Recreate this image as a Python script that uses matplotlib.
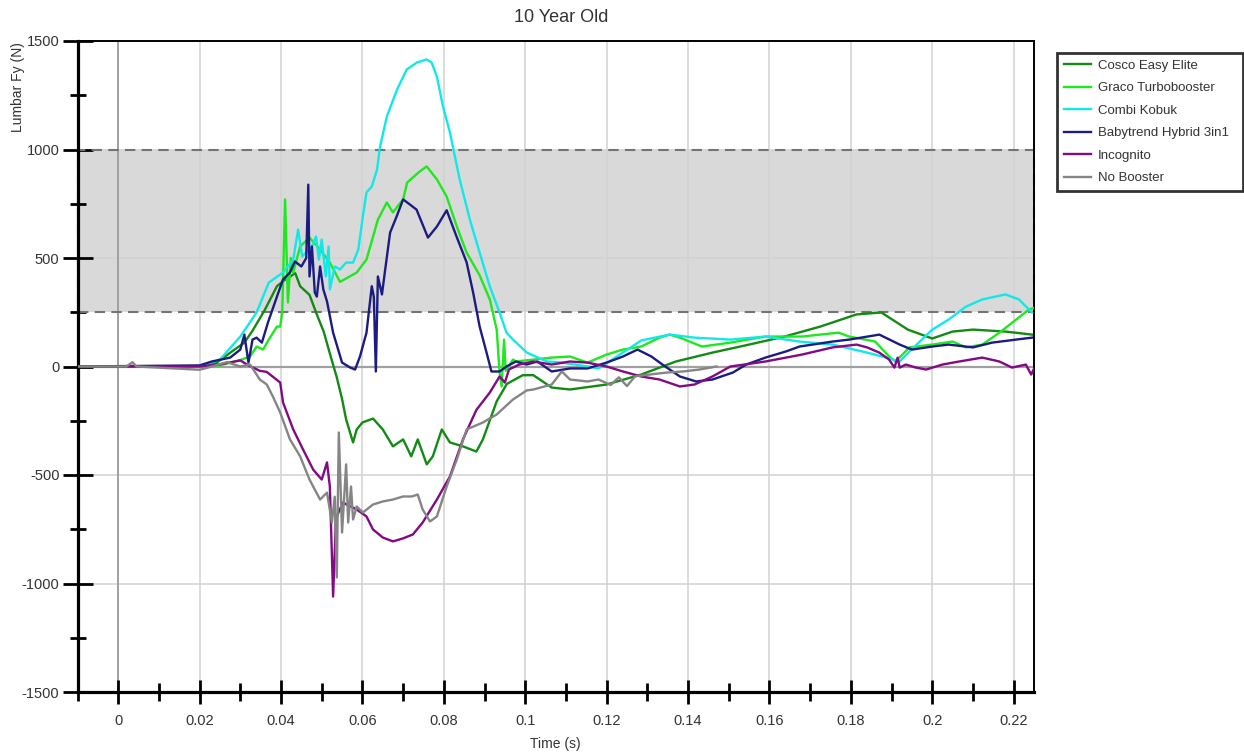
import matplotlib
matplotlib.use("Agg")
import matplotlib.pyplot as plt
from matplotlib.patches import Rectangle
from matplotlib.ticker import MultipleLocator, FuncFormatter
import numpy as np

plt.rcParams['font.family'] = ['Liberation Sans', 'DejaVu Sans']

title = "10 Year Old"
x_label = "Time (s)"
y_label = "Lumbar Fy (N)"
band_low, band_high = 250, 1000

names = ["Cosco Easy Elite", "Graco Turbobooster", "Combi Kobuk",
         "Babytrend Hybrid 3in1", "Incognito", "No Booster"]
colors = ["#138a13", "#1ee81e", "#12e8e8", "#1c1c80", "#820a82", "#858585"]

# Lumbar Fy traces: (time s, force N)
cosco_t = [-0.01, 0.0, 0.01, 0.02, 0.024, 0.028, 0.031, 0.033, 0.036, 0.039, 0.041, 0.0435,
           0.0447, 0.047, 0.049, 0.0505, 0.052, 0.0537, 0.055, 0.056, 0.0577, 0.0586, 0.060,
           0.0626, 0.065, 0.0675, 0.070, 0.072, 0.0736, 0.0758, 0.0773, 0.0795, 0.0815,
           0.0847, 0.088, 0.0896, 0.093, 0.0955, 0.0994, 0.102, 0.1065, 0.111, 0.120, 0.1285,
           0.137, 0.146, 0.155, 0.1637, 0.1725, 0.1814, 0.1875, 0.194, 0.200, 0.205, 0.210,
           0.218, 0.2245]
cosco_v = [0, 0, 0, 2, 15, 70, 110, 165, 260, 370, 400, 430,
           370, 330, 230, 160, 60, -50, -150, -244, -350, -290, -258,
           -240, -290, -368, -336, -414, -336, -451, -414, -290, -350,
           -368, -392, -336, -160, -80, -40, -40, -97, -106, -83, -37,
           23, 64, 101, 138, 184, 240, 249, 170, 129, 161, 170,
           161, 147]

graco_t = [-0.01, 0.02, 0.025, 0.03, 0.0324, 0.034, 0.0356, 0.037, 0.039, 0.0398, 0.0403,
           0.041, 0.0417, 0.0424, 0.043, 0.0447, 0.047, 0.0496, 0.052, 0.0545, 0.0586,
           0.061, 0.0638, 0.066, 0.0675, 0.070, 0.071, 0.0741, 0.0758, 0.0783, 0.0807,
           0.0832, 0.0856, 0.0888, 0.0913, 0.093, 0.0937, 0.0942, 0.0948, 0.0952, 0.097,
           0.0977, 0.1065, 0.111, 0.1153, 0.12, 0.124, 0.1285, 0.133, 0.1355, 0.138,
           0.1434, 0.1504, 0.159, 0.168, 0.177, 0.1796, 0.186, 0.1894, 0.191, 0.1944,
           0.2, 0.205, 0.2083, 0.2123, 0.2165, 0.2206, 0.2238, 0.225]
graco_v = [0, 0, 5, 30, 46, 92, 78, 124, 184, 184, 250,
           770, 295, 500, 433, 553, 594, 539, 479, 390, 433,
           493, 677, 756, 710, 770, 848, 899, 922, 862, 783,
           645, 525, 420, 309, 170, -28, -92, 124, -20, 32,
           23, 41, 46, 18, 55, 78, 92, 133, 147, 133,
           92, 110, 138, 138, 156, 138, 115, 46, 23, 88,
           101, 115, 88, 101, 156, 216, 263, 270]

combi_t = [-0.01, 0.02, 0.025, 0.03, 0.034, 0.037, 0.0405, 0.043, 0.0442, 0.0452, 0.0476,
           0.0486, 0.0493, 0.050, 0.051, 0.0517, 0.052, 0.0532, 0.0545, 0.056, 0.0577,
           0.059, 0.0601, 0.061, 0.0623, 0.0636, 0.0643, 0.066, 0.0685, 0.0709, 0.0734,
           0.0758, 0.077, 0.0783, 0.0798, 0.0815, 0.0839, 0.0864, 0.0888, 0.0913, 0.0937,
           0.0954, 0.097, 0.1004, 0.1053, 0.109, 0.1153, 0.118, 0.124, 0.1285, 0.1355,
           0.1416, 0.1504, 0.159, 0.1674, 0.1755, 0.184, 0.1887, 0.192, 0.1944, 0.2,
           0.204, 0.2083, 0.2123, 0.218, 0.2213, 0.2245]
combi_v = [0, 0, 32, 138, 249, 387, 433, 493, 631, 507, 553,
           599, 493, 585, 415, 553, 355, 461, 447, 479, 479,
           539, 691, 802, 829, 908, 1010, 1152, 1276, 1369, 1401,
           1415, 1401, 1336, 1198, 1078, 862, 677, 525, 369, 249,
           156, 124, 64, 23, 18, 0, -9, 64, 120, 147,
           133, 124, 138, 115, 101, 64, 41, 23, 69, 170,
           216, 276, 309, 332, 309, 249]

baby_t = [-0.01, 0.02, 0.023, 0.0275, 0.03, 0.031, 0.032, 0.033, 0.034, 0.0353, 0.0368,
          0.039, 0.0405, 0.0422, 0.0434, 0.045, 0.0462, 0.0467, 0.047, 0.0476, 0.0483,
          0.0488, 0.0496, 0.0504, 0.0513, 0.0528, 0.055, 0.057, 0.0582, 0.0594, 0.061,
          0.0623, 0.0628, 0.0633, 0.0638, 0.0648, 0.0655, 0.0668, 0.0684, 0.070, 0.0717,
          0.0733, 0.0761, 0.0783, 0.0807, 0.0831, 0.0856, 0.0872, 0.0888, 0.0905, 0.0917,
          0.0937, 0.0954, 0.0977, 0.1003, 0.103, 0.1065, 0.111, 0.1153, 0.12, 0.124,
          0.1276, 0.131, 0.1337, 0.138, 0.142, 0.146, 0.151, 0.1543, 0.159, 0.164,
          0.1674, 0.1755, 0.1796, 0.187, 0.192, 0.195, 0.2, 0.204, 0.21, 0.2147,
          0.2206, 0.2245]
baby_v = [0, 5, 23, 41, 78, 147, 18, 124, 133, 110, 203,
          322, 401, 433, 484, 461, 500, 838, 415, 553, 341,
          322, 461, 355, 300, 156, 18, -5, -14, 46, 156,
          370, 322, -23, 415, 332, 433, 617, 691, 770, 746,
          723, 594, 645, 720, 600, 480, 341, 184, 64, -23,
          -23, 0, 23, 9, 23, -23, -9, -9, 18, 46,
          78, 46, 9, -46, -69, -60, -28, 9, 41, 69,
          92, 115, 124, 147, 101, 78, 92, 101, 88, 110,
          124, 133]

incog_t = [-0.01, 0.02, 0.025, 0.03, 0.032, 0.0348, 0.0365, 0.0398, 0.0405, 0.043, 0.0454,
           0.0479, 0.050, 0.0513, 0.052, 0.0528, 0.0535, 0.0552, 0.0586, 0.061, 0.0626,
           0.065, 0.0675, 0.070, 0.0724, 0.0748, 0.0783, 0.0815, 0.0847, 0.088, 0.0913,
           0.0937, 0.095, 0.096, 0.0985, 0.102, 0.1065, 0.111, 0.1153, 0.12, 0.124,
           0.1285, 0.133, 0.138, 0.1416, 0.146, 0.1504, 0.159, 0.168, 0.1755, 0.1814,
           0.184, 0.187, 0.1894, 0.1907, 0.1915, 0.192, 0.1935, 0.196, 0.1985, 0.2025,
           0.2066, 0.2123, 0.2165, 0.2196, 0.223, 0.2243, 0.225]
incog_v = [0, 0, 10, 28, 5, -20, -25, -74, -166, -290, -382,
           -475, -521, -442, -553, -1060, -700, -627, -659, -691, -751,
           -788, -806, -792, -774, -719, -613, -507, -336, -200, -120,
           -46, -74, -14, 9, 23, 9, 23, 18, 0, -23,
           -46, -60, -92, -83, -46, 0, 23, 55, 88, 101,
           88, 64, 32, -5, 41, -5, 9, -5, -14, 9,
           23, 41, 23, -5, 9, -37, -10]

nobst_t = [-0.01, 0.002, 0.0035, 0.0045, 0.02, 0.022, 0.0267, 0.03, 0.0324, 0.0348, 0.0365,
           0.038, 0.0398, 0.0422, 0.0447, 0.047, 0.0496, 0.0513, 0.0525, 0.0532, 0.0537,
           0.0542, 0.055, 0.056, 0.0565, 0.0572, 0.0577, 0.0586, 0.0601, 0.0626, 0.065,
           0.0675, 0.070, 0.0721, 0.0736, 0.0748, 0.0766, 0.0783, 0.0807, 0.0832, 0.0856,
           0.0896, 0.093, 0.097, 0.1004, 0.102, 0.1065, 0.109, 0.111, 0.1153, 0.118,
           0.121, 0.123, 0.125, 0.127, 0.1306, 0.1347, 0.1387, 0.1428, 0.147]
nobst_v = [0, 0, 20, 0, -15, -5, 20, 0, 9, -60, -83,
           -138, -212, -336, -414, -521, -613, -581, -719, -600, -972,
           -304, -765, -451, -719, -553, -705, -645, -673, -636, -622,
           -613, -599, -599, -590, -659, -714, -691, -553, -428, -290,
           -258, -221, -152, -110, -106, -83, -23, -60, -69, -60,
           -85, -50, -90, -45, -37, -28, -23, -14, 0]

series = [(cosco_t, cosco_v), (graco_t, graco_v), (combi_t, combi_v),
          (baby_t, baby_v), (incog_t, incog_v), (nobst_t, nobst_v)]

x_min, x_max = -0.01, 0.225
y_min, y_max = -1500, 1500

fig = plt.figure(figsize=(12.44, 7.52), dpi=100)
ax = fig.add_axes([77.5 / 1244, 1 - 692 / 752, (1034 - 77.5) / 1244, (692 - 41) / 752])
ax.set_xlim(x_min, x_max)
ax.set_ylim(y_min, y_max)

# shaded reference band with dashed outline
ax.add_patch(Rectangle((x_min, band_low), x_max - x_min, band_high - band_low,
                       facecolor="#d9d9d9", edgecolor="none", zorder=0.5))
ax.add_patch(Rectangle((x_min, band_low), x_max - x_min, band_high - band_low,
                       facecolor="none", edgecolor="#747474", linewidth=1.5,
                       linestyle=(0, (5, 3)), zorder=2.5, clip_on=False))

# grid lines
for xv in np.arange(0.02, 0.2201, 0.02):
    ax.axvline(xv, color="#d2d2d2", lw=1.1, zorder=1)
for yv in (-1000, -500, 500, 1000):
    ax.axhline(yv, color="#d2d2d2", lw=1.1, zorder=1)
ax.axvline(0, color="#a0a0a0", lw=1.4, zorder=1)
ax.axhline(0, color="#a0a0a0", lw=1.6, zorder=1)

for (t, v), name, c in zip(series, names, colors):
    ax.plot(t, v, color=c, lw=1.7, label=name, zorder=3)

ax.xaxis.set_major_locator(MultipleLocator(0.02))
ax.xaxis.set_minor_locator(MultipleLocator(0.01))
ax.yaxis.set_major_locator(MultipleLocator(500))
ax.yaxis.set_minor_locator(MultipleLocator(250))
ax.xaxis.set_major_formatter(FuncFormatter(lambda v, p: "%g" % round(v, 4)))
ax.yaxis.set_major_formatter(FuncFormatter(lambda v, p: "%d" % v))

ax.tick_params(axis="x", which="major", direction="inout", length=17, width=2,
               labelsize=10.5, pad=7, labelcolor="#333333")
ax.tick_params(axis="x", which="minor", direction="inout", length=13, width=2)
ax.tick_params(axis="y", which="major", direction="inout", length=22, width=2,
               labelsize=10.5, pad=2, labelcolor="#333333")
ax.tick_params(axis="y", which="minor", direction="inout", length=11, width=2)

for s in ("left", "bottom"):
    ax.spines[s].set_linewidth(2.3)
for s in ("top", "right"):
    ax.spines[s].set_linewidth(1.4)

ax.set_title(title, fontsize=13, color="#333333", pad=14, x=0.5055)
ax.set_xlabel(x_label, fontsize=10, color="#333333", labelpad=7)
# axis title sits beside the top of the y axis
fig.text(18 / 1244, 1 - 42 / 752, y_label, rotation=90, ha="center", va="top",
         fontsize=10, color="#333333")

leg = ax.legend(loc="upper left", bbox_to_anchor=(1057 / 1244, 1 - 187 / 752,
                                                  (1243 - 1057) / 1244, (187 - 53) / 752),
                bbox_transform=fig.transFigure, mode="expand", fontsize=9.5,
                frameon=True, fancybox=False, borderaxespad=0, handlelength=2.1,
                handletextpad=0.5, labelspacing=0.78, borderpad=0.5)
leg.get_frame().set_edgecolor("black")
leg.get_frame().set_linewidth(2)
for txt in leg.get_texts():
    txt.set_color("#333333")

fig.savefig("out.png", dpi=100)
